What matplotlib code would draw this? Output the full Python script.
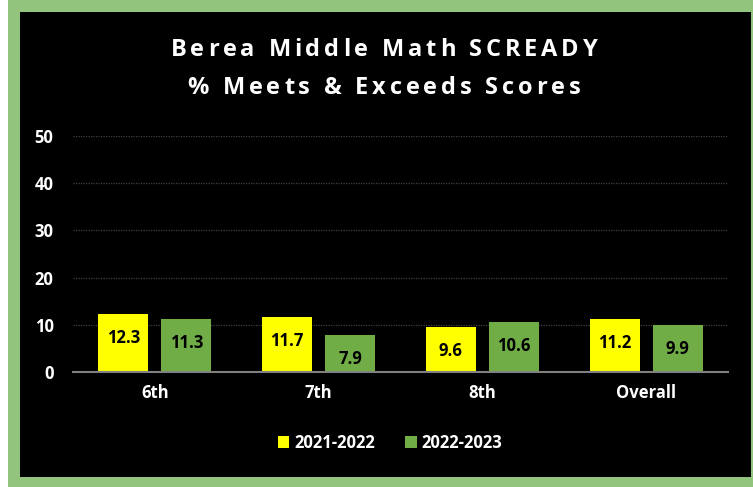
import numpy as np
import matplotlib.pyplot as plt
from matplotlib.patches import Rectangle
from matplotlib.font_manager import FontProperties
from matplotlib.textpath import TextToPath

categories = ["6th", "7th", "8th", "Overall"]
series_names = ["2021-2022", "2022-2023"]
scores_2122 = [12.3, 11.7, 9.6, 11.2]
scores_2223 = [11.3, 7.9, 10.6, 9.9]
yticks = [0, 10, 20, 30, 40, 50]
title_lines = ["Berea Middle Math SCREADY", "% Meets & Exceeds Scores"]

W, H = 753, 487
plt.rcParams["font.family"] = ["Open Sans", "DejaVu Sans"]
fig = plt.figure(figsize=(W / 100, H / 100), dpi=100, facecolor="white")

# green frame and black chart area
fig.patches.append(Rectangle((8 / W, 0), 1 - 8 / W, 1, transform=fig.transFigure,
                             facecolor="#93C47D", edgecolor="none", zorder=-10))
fig.patches.append(Rectangle((20 / W, 10 / H), 731 / W, 465 / H, transform=fig.transFigure,
                             facecolor="black", edgecolor="none", zorder=-9))


def spaced_text(s, cx, cy, size, spacing_px):
    # matplotlib has no letter spacing, so place the characters one by one
    prop = FontProperties(family="Open Sans", weight="bold", size=size)
    ttp = TextToPath()
    px = 100 / 72
    widths = []
    for ch in s:
        if ch == " ":
            w = ttp.get_text_width_height_descent("a a", prop, ismath=False)[0] - \
                ttp.get_text_width_height_descent("aa", prop, ismath=False)[0]
        else:
            w = ttp.get_text_width_height_descent(ch, prop, ismath=False)[0]
        widths.append(w * px)
    total = sum(widths) + spacing_px * (len(s) - 1)
    xpos = cx - total / 2
    for ch, w in zip(s, widths):
        fig.text(xpos / W, 1 - cy / H, ch, ha="left", va="center",
                 fontproperties=prop, color="white")
        xpos += w + spacing_px


ax = fig.add_axes([73 / W, (H - 372) / H, 655 / W, 236 / H])
ax.set_facecolor("none")

x = np.arange(len(categories))
bw = 0.305
gap = 0.08
off = (bw + gap) / 2
b1 = ax.bar(x - off, scores_2122, bw, color="#FFFF00", label=series_names[0], zorder=3)
b2 = ax.bar(x + off, scores_2223, bw, color="#70AD47", label=series_names[1], zorder=3)

for bars in (b1, b2):
    for rect in bars:
        ax.annotate(f"{rect.get_height():.1f}",
                    (rect.get_x() + rect.get_width() / 2, rect.get_height()),
                    xytext=(0, -24 * 0.72), textcoords="offset points",
                    ha="center", va="center", fontsize=12, fontweight="bold",
                    color="black", zorder=4)

ax.set_xlim(-0.5, len(categories) - 0.5)
ax.set_ylim(0, 50)
ax.set_yticks(yticks)
ax.set_yticklabels([str(t) for t in yticks], color="white", fontsize=12, fontweight="bold")
ax.set_xticks(x)
ax.set_xticklabels(categories, color="white", fontsize=12, fontweight="bold")
ax.tick_params(axis="both", length=0)
ax.tick_params(axis="y", pad=14)
ax.tick_params(axis="x", pad=9)
ax.yaxis.grid(True, color="#404040", linewidth=0.9, linestyle=(0, (1, 1)), zorder=0)
for s in ("top", "right", "left"):
    ax.spines[s].set_visible(False)
ax.spines["bottom"].set_color("#808080")
ax.spines["bottom"].set_linewidth(1.5)
ax.spines["bottom"].set_zorder(5)

spaced_text(title_lines[0], 384, 50, 17, 3.8)
spaced_text(title_lines[1], 384, 88, 17, 3.8)

leg = fig.legend(handles=[b1, b2], loc="center", bbox_to_anchor=(390 / W, (H - 443) / H),
                 ncol=2, frameon=False, fontsize=12, handlelength=0.7, handleheight=0.7,
                 handletextpad=0.3, columnspacing=1.8)
for t in leg.get_texts():
    t.set_color("white")
    t.set_fontweight("bold")

fig.savefig("out.png", dpi=100, facecolor=fig.get_facecolor())
